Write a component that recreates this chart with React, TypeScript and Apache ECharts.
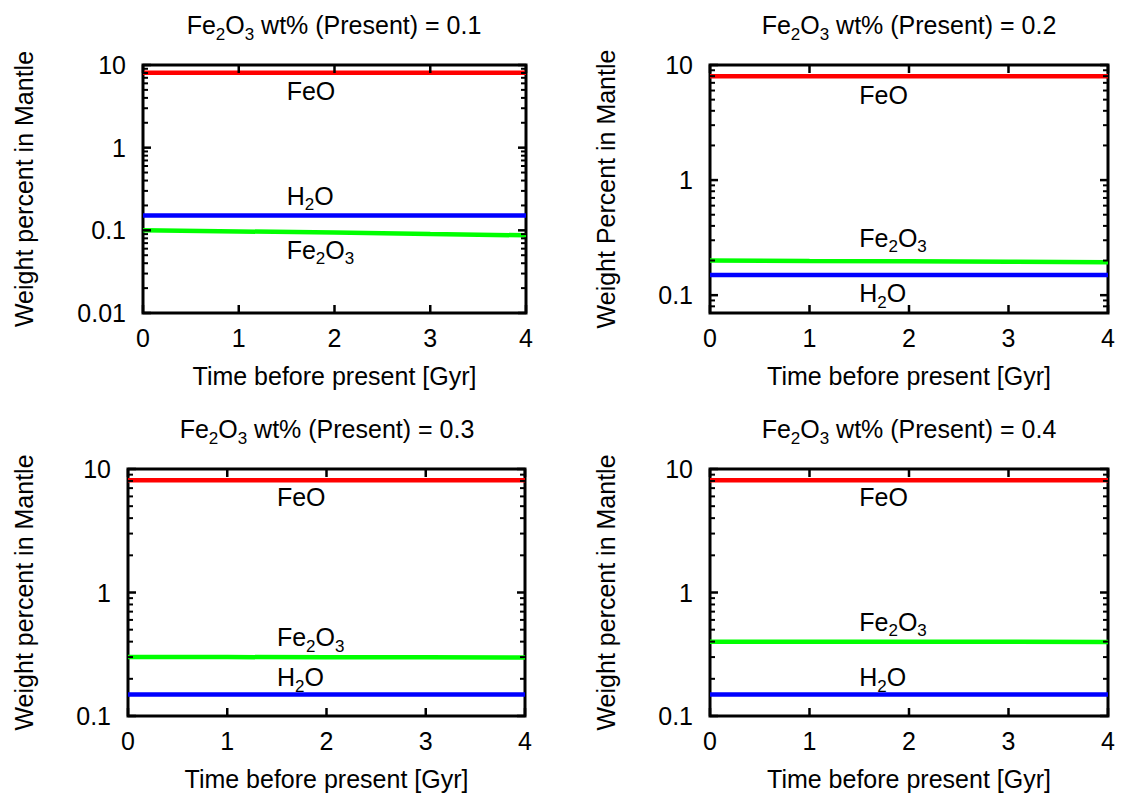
import React, { useEffect, useRef } from 'react';
import * as echarts from 'echarts';

// ---- data ----
const timeGyr = [0, 1, 2, 3, 4];
const presentFe2O3 = ['0.1', '0.2', '0.3', '0.4'];

const feoP1 = [8.05, 8.05, 8.05, 8.05, 8.05];
const h2oP1 = [0.151, 0.151, 0.151, 0.151, 0.151];
const fe2o3P1 = [0.1, 0.097, 0.094, 0.09, 0.087];

const feoP2 = [8.0, 8.0, 8.0, 8.0, 8.0];
const h2oP2 = [0.15, 0.15, 0.15, 0.15, 0.15];
const fe2o3P2 = [0.2, 0.198, 0.197, 0.195, 0.193];

const feoP3 = [8.1, 8.1, 8.1, 8.1, 8.1];
const h2oP3 = [0.149, 0.149, 0.149, 0.149, 0.149];
const fe2o3P3 = [0.3, 0.3, 0.299, 0.299, 0.298];

const feoP4 = [8.1, 8.1, 8.1, 8.1, 8.1];
const h2oP4 = [0.149, 0.149, 0.149, 0.149, 0.149];
const fe2o3P4 = [0.4, 0.4, 0.4, 0.399, 0.398];

const feoSeries = [feoP1, feoP2, feoP3, feoP4];
const h2oSeries = [h2oP1, h2oP2, h2oP3, h2oP4];
const fe2o3Series = [fe2o3P1, fe2o3P2, fe2o3P3, fe2o3P4];

const yMin = [0.01, 0.07, 0.1, 0.1];
const yMax = [10, 10, 10, 10];
const yMajorTicks = [0.01, 0.1, 1, 10];
const yMinorTicks = [
  0.02, 0.03, 0.04, 0.05, 0.06, 0.07, 0.08, 0.09,
  0.2, 0.3, 0.4, 0.5, 0.6, 0.7, 0.8, 0.9,
  2, 3, 4, 5, 6, 7, 8, 9,
];
const xTicks = [0, 1, 2, 3, 4];
const yAxisNames = [
  'Weight percent in Mantle',
  'Weight Percent in Mantle',
  'Weight percent in Mantle',
  'Weight percent in Mantle',
];
const xAxisName = 'Time before present [Gyr]';

// annotation anchor points (data coords)
const labelX = 1.5;
const feoLabelY = [4.87, 5.46, 5.92, 5.92];
const h2oLabelY = [0.262, 0.104, 0.206, 0.206];
const fe2o3LabelY = [0.058, 0.314, 0.434, 0.58];

// ---- layout ----
const FONT = 'Liberation Sans, Arial, Helvetica, sans-serif';
const FS = 25;
const SUB_FS = 17;
const MAJOR_LEN = 8;
const MINOR_LEN = 5;

const grids = [
  { left: 143, right: 598, top: 65, bottom: 486 },
  { left: 710, right: 16, top: 65, bottom: 486 },
  { left: 128, right: 599, top: 469, bottom: 83 },
  { left: 710, right: 16, top: 469, bottom: 83 },
];
const yNameGap = [107, 92, 92, 92];
const titlePos = [
  [334, 25],
  [909, 25],
  [327, 429],
  [909, 429],
];

const rich = {
  n: { fontSize: FS, fontFamily: FONT, color: '#000' },
  s: { fontSize: SUB_FS, fontFamily: FONT, color: '#000', padding: [18, 0, 0, 0] },
};

const App: React.FC = () => {
  const ref = useRef<HTMLDivElement>(null);

  useEffect(() => {
    document.body.style.margin = '0';
    if (!ref.current) return;
    const chart = echarts.init(ref.current, undefined, { renderer: 'svg' });

    const grid: any[] = [];
    const xAxis: any[] = [];
    const yAxis: any[] = [];
    const series: any[] = [];
    const graphic: any[] = [];

    const labelStyle = { color: '#000', fontSize: FS, fontFamily: FONT };

    for (let i = 0; i < 4; i++) {
      grid.push({
        ...grids[i],
        show: true,
        borderColor: '#000',
        borderWidth: 3,
        backgroundColor: 'transparent',
        containLabel: false,
        outerBoundsMode: 'none',
      });
      xAxis.push({
        gridIndex: i,
        type: 'value',
        min: 0,
        max: 4,
        interval: 1,
        position: 'bottom',
        axisLine: { show: false },
        axisTick: { show: false },
        splitLine: { show: false },
        axisLabel: { show: true, margin: 12, ...labelStyle },
        name: xAxisName,
        nameLocation: 'middle',
        nameGap: 50,
        nameTextStyle: labelStyle,
      });
      yAxis.push({
        gridIndex: i,
        type: 'log',
        logBase: 10,
        min: yMin[i],
        max: yMax[i],
        position: 'left',
        axisLine: { show: false },
        axisTick: { show: false },
        splitLine: { show: false },
        minorTick: { show: false },
        minorSplitLine: { show: false },
        axisLabel: {
          show: true,
          margin: 17,
          customValues: yMajorTicks,
          formatter: (v: number) => String(v),
          ...labelStyle,
        },
        name: yAxisNames[i],
        nameLocation: 'middle',
        nameGap: yNameGap[i],
        nameRotate: 90,
        nameTextStyle: labelStyle,
      });

      const lo = yMin[i];
      const hi = yMax[i];
      // tick marks (mirrored on all four sides, pointing inward), drawn through the axes' scales
      series.push({
        type: 'custom',
        coordinateSystem: 'cartesian2d',
        xAxisIndex: i,
        yAxisIndex: i,
        silent: true,
        clip: false,
        z: 4,
        data: [[0, lo]],
        renderItem: (params: any, api: any) => {
          const cs = params.coordSys;
          const left = cs.x;
          const right = cs.x + cs.width;
          const top = cs.y;
          const bottom = cs.y + cs.height;
          const children: any[] = [];
          const seg = (x1: number, y1: number, x2: number, y2: number, w: number) =>
            children.push({
              type: 'line',
              shape: { x1, y1, x2, y2 },
              style: { stroke: '#000', lineWidth: w },
            });
          xTicks.forEach((t) => {
            const px = api.coord([t, lo])[0];
            seg(px, bottom, px, bottom - MAJOR_LEN, 2.5);
            seg(px, top, px, top + MAJOR_LEN, 2.5);
          });
          yMajorTicks
            .filter((v) => v >= lo && v <= hi)
            .forEach((v) => {
              const py = api.coord([0, v])[1];
              seg(left, py, left + MAJOR_LEN, py, 2.5);
              seg(right, py, right - MAJOR_LEN, py, 2.5);
            });
          yMinorTicks
            .filter((v) => v >= lo && v <= hi)
            .forEach((v) => {
              const py = api.coord([0, v])[1];
              seg(left, py, left + MINOR_LEN, py, 2);
              seg(right, py, right - MINOR_LEN, py, 2);
            });
          return { type: 'group', children };
        },
      });

      const mkLine = (name: string, values: number[], color: string) => ({
        type: 'line',
        name,
        xAxisIndex: i,
        yAxisIndex: i,
        data: timeGyr.map((t, k) => [t, values[k]]),
        showSymbol: false,
        symbol: 'none',
        lineStyle: { color, width: 4.5 },
        silent: true,
      });
      series.push(mkLine('FeO', feoSeries[i], '#ff0000'));
      series.push(mkLine('H2O', h2oSeries[i], '#0000ff'));
      series.push(mkLine('Fe2O3', fe2o3Series[i], '#00ff00'));

      const mkLabel = (y: number, fmt: string) => ({
        type: 'scatter',
        xAxisIndex: i,
        yAxisIndex: i,
        data: [[labelX, y]],
        symbolSize: 0.01,
        itemStyle: { color: '#000', opacity: 1 },
        silent: true,
        z: 5,
        label: {
          show: true,
          position: 'right',
          distance: 0,
          color: '#000',
          opacity: 1,
          textBorderWidth: 0,
          formatter: fmt,
          rich,
        },
      });
      series.push(mkLabel(feoLabelY[i], '{n|FeO}'));
      series.push(mkLabel(h2oLabelY[i], '{n|H}{s|2}{n|O}'));
      series.push(mkLabel(fe2o3LabelY[i], '{n|Fe}{s|2}{n|O}{s|3}'));

      graphic.push({
        type: 'text',
        x: titlePos[i][0],
        y: titlePos[i][1],
        style: {
          text: '{n|Fe}{s|2}{n|O}{s|3}{n| wt% (Present) = ' + presentFe2O3[i] + '}',
          rich,
          align: 'center',
          verticalAlign: 'middle',
        },
      });
    }

    chart.setOption({
      animation: false,
      backgroundColor: '#fff',
      grid,
      xAxis,
      yAxis,
      series,
      graphic,
    });

    return () => chart.dispose();
  }, []);

  return <div ref={ref} style={{ width: 1124, height: 799 }} />;
};

export default App;
